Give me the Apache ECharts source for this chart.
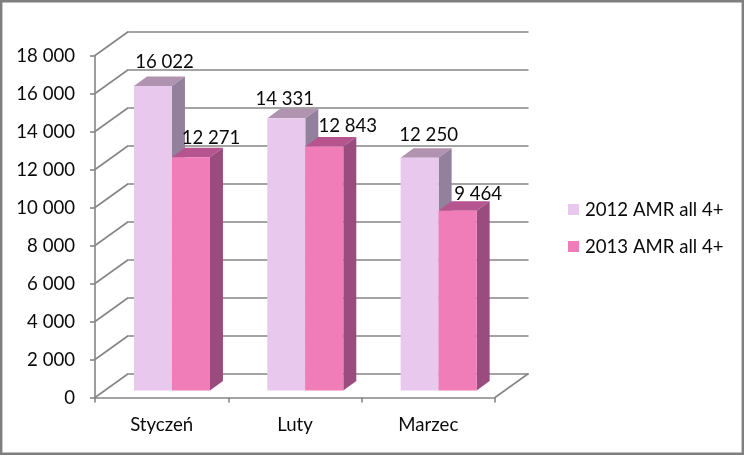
<!DOCTYPE html>
<html><head><meta charset="utf-8">
<style>html,body{margin:0;padding:0;background:#fff}#c{width:744px;height:456px}</style>
<script src="https://cdn.jsdelivr.net/npm/echarts@6/dist/echarts.min.js"></script>
</head><body><div id="c"></div>
<script>
const categories = ['Styczeń', 'Luty', 'Marzec'];
const seriesNames = ['2012 AMR all 4+', '2013 AMR all 4+'];
const values2012 = [16022, 14331, 12250];
const values2013 = [12271, 12843, 9464];
const tickValues = [0, 2000, 4000, 6000, 8000, 10000, 12000, 14000, 16000, 18000];

const FONT = 'Lato, "Open Sans", sans-serif';
const GREY = '#868686';
const TEXT = '#0A0A0A';
const SIZE = 18.6;
const fmt = v => String(v).replace(/\B(?=(\d{3})+$)/g, ' ');

const WALL = { dx: 33.5, dy: -24 };
const BAR = { w: 38, dx: 13, dy: -9.5, shiftX: 10.3, shiftY: -7 };
const LABEL_OFFSETS = [
  [[11.5, -24], [-1.5, -19.5], [9, -22.5]],
  [[20, -19.5], [23.5, -20.5], [20.5, -16.5]]
];

function barRenderer(seriesIdx, colors) {
  return function (params, api) {
    const i = api.value(0), v = api.value(1);
    const c = api.coord([i, v]), base = api.coord([i, 0]);
    const x0 = c[0] + BAR.shiftX + (seriesIdx - 1) * BAR.w;
    const x1 = x0 + BAR.w;
    const yt = c[1] + BAR.shiftY, yb = base[1] + BAR.shiftY;
    const off = LABEL_OFFSETS[seriesIdx][i];
    const poly = (points, fill) => ({ type: 'polygon', shape: { points }, style: { fill, stroke: null } });
    return {
      type: 'group',
      children: [
        poly([[x0, yt], [x0 + BAR.dx, yt + BAR.dy], [x1 + BAR.dx, yt + BAR.dy], [x1, yt]], colors.top),
        poly([[x1, yt], [x1 + BAR.dx, yt + BAR.dy], [x1 + BAR.dx, yb + BAR.dy], [x1, yb]], colors.side),
        poly([[x0, yt], [x1, yt], [x1, yb], [x0, yb]], colors.front),
        {
          type: 'text', z2: 100,
          style: {
            x: (x0 + x1) / 2 + off[0], y: yt + off[1], text: fmt(v),
            align: 'center', verticalAlign: 'middle',
            fontFamily: FONT, fontSize: SIZE, fill: TEXT
          }
        }
      ]
    };
  };
}

function wallRenderer(params, api) {
  const v = api.value(0);
  const y = api.coord([0, v])[1];
  const cs = params.coordSys;
  const diag = x => ({
    type: 'line',
    shape: { x1: x, y1: y, x2: x + WALL.dx, y2: y + WALL.dy },
    style: { stroke: GREY, lineWidth: 1.6 }
  });
  const children = [diag(cs.x)];
  if (v === 0) children.push(diag(cs.x + cs.width));
  return { type: 'group', children };
}

const yCommon = { type: 'value', min: 0, max: 18000, interval: 2000 };
const chart = echarts.init(document.getElementById('c'));
chart.setOption({
  animation: false,
  backgroundColor: '#fff',
  textStyle: { fontFamily: FONT },
  grid: [
    { left: 95, top: 55.5, width: 400, height: 342 },
    { left: 95 + WALL.dx, top: 55.5 + WALL.dy, width: 400, height: 342, z: 0 }
  ],
  xAxis: [
    {
      type: 'category', data: categories, gridIndex: 0,
      axisLine: { lineStyle: { color: GREY, width: 1.6 } },
      axisTick: { show: true, length: 5, alignWithLabel: false, lineStyle: { color: GREY, width: 1.6 } },
      axisLabel: { color: TEXT, fontSize: SIZE, fontFamily: FONT, margin: 17.5 },
      splitLine: { show: false }
    },
    {
      type: 'category', data: categories, gridIndex: 1,
      axisLine: { show: false }, axisTick: { show: false }, axisLabel: { show: false }, splitLine: { show: false }
    }
  ],
  yAxis: [
    {
      ...yCommon, gridIndex: 0,
      axisLine: { show: true, lineStyle: { color: GREY, width: 1.6 } },
      axisTick: { show: true, length: 5, lineStyle: { color: GREY, width: 1.6 } },
      axisLabel: { color: TEXT, fontSize: SIZE, fontFamily: FONT, margin: 20, padding: [3, 0, 0, 0], formatter: fmt },
      splitLine: { show: false }
    },
    {
      ...yCommon, gridIndex: 1,
      axisLine: { show: false }, axisTick: { show: false }, axisLabel: { show: false },
      splitLine: { show: true, lineStyle: { color: GREY, width: 1.6 } }
    }
  ],
  legend: {
    orient: 'vertical', left: 568, top: 200, padding: 0, itemWidth: 11, itemHeight: 11, itemGap: 18,
    icon: 'rect', data: seriesNames,
    textStyle: { color: TEXT, fontSize: SIZE, fontFamily: FONT, padding: [0, 0, 0, 1] }
  },
  series: [
    {
      name: 'walls', type: 'custom', xAxisIndex: 0, yAxisIndex: 0, z: 1, silent: true,
      data: tickValues.map(v => [v]), encode: { y: 0 }, renderItem: wallRenderer
    },
    {
      name: seriesNames[0], type: 'custom', xAxisIndex: 0, yAxisIndex: 0, z: 3,
      itemStyle: { color: '#E8C8EC' },
      data: values2012.map((v, i) => [i, v]), encode: { x: 0, y: 1 },
      renderItem: barRenderer(0, { front: '#E8C8EC', side: '#93809C', top: '#B093B1' })
    },
    {
      name: seriesNames[1], type: 'custom', xAxisIndex: 0, yAxisIndex: 0, z: 4,
      itemStyle: { color: '#F07CB8' },
      data: values2013.map((v, i) => [i, v]), encode: { x: 0, y: 1 },
      renderItem: barRenderer(1, { front: '#F07CB8', side: '#9A4C7E', top: '#B5548F' })
    }
  ],
  graphic: [{
    type: 'rect', z: 50, silent: true,
    shape: { x: 1.2, y: 1.2, width: 741.6, height: 452.6 },
    style: { fill: 'none', stroke: '#7F7F7F', lineWidth: 2.4 }
  }]
});
</script></body></html>
